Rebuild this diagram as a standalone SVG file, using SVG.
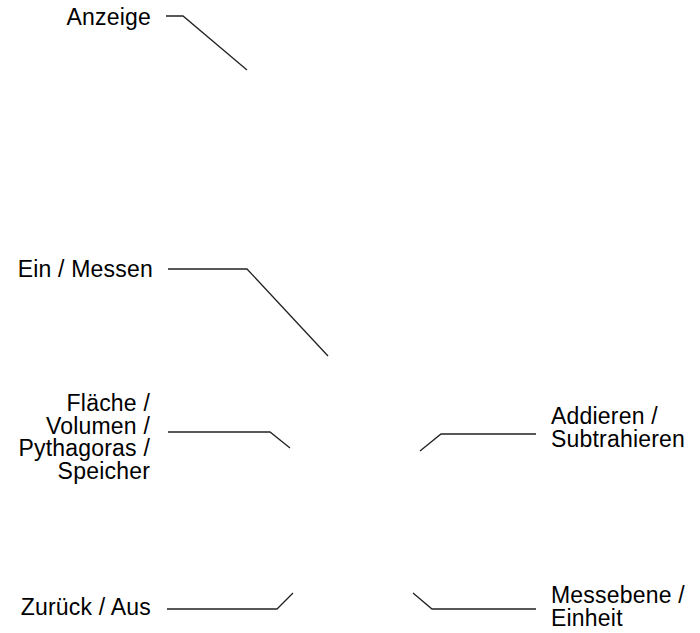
<svg xmlns="http://www.w3.org/2000/svg" width="700" height="633" viewBox="0 0 700 633">
<style>
.lbl{font-family:"Liberation Sans",Arial,sans-serif;font-size:23px;letter-spacing:0.2px;fill:#000}
.l{text-anchor:end}
.c{fill:none;stroke:#222;stroke-width:1.3}
</style>
<rect width="700" height="633" fill="#fff"/>
<g id="connectors">
<polyline class="c" points="166,16 183,16 247,70"/>
<polyline class="c" points="168,269 247,269 328,356"/>
<polyline class="c" points="168,432 270,432 290,448"/>
<polyline class="c" points="420,451 441,434 536,434"/>
<polyline class="c" points="167,609 277,609 293,593"/>
<polyline class="c" points="413,593 432,609 536,609"/>
</g>
<g id="anzeige"><text class="lbl l" x="151" y="25">Anzeige</text></g>
<g id="ein-messen"><text class="lbl l" x="153" y="277">Ein / Messen</text></g>
<g id="flaeche"><text class="lbl l" x="150"><tspan x="150" y="411">Fläche /</tspan><tspan x="150" y="433.5">Volumen /</tspan><tspan x="150" y="456">Pythagoras /</tspan><tspan x="150" y="478.5">Speicher</tspan></text></g>
<g id="addieren"><text class="lbl"><tspan x="551" y="424">Addieren /</tspan><tspan x="551" y="447">Subtrahieren</tspan></text></g>
<g id="zurueck"><text class="lbl l" x="151" y="615">Zurück / Aus</text></g>
<g id="messebene"><text class="lbl"><tspan x="551" y="603">Messebene /</tspan><tspan x="551" y="626">Einheit</tspan></text></g>
</svg>
